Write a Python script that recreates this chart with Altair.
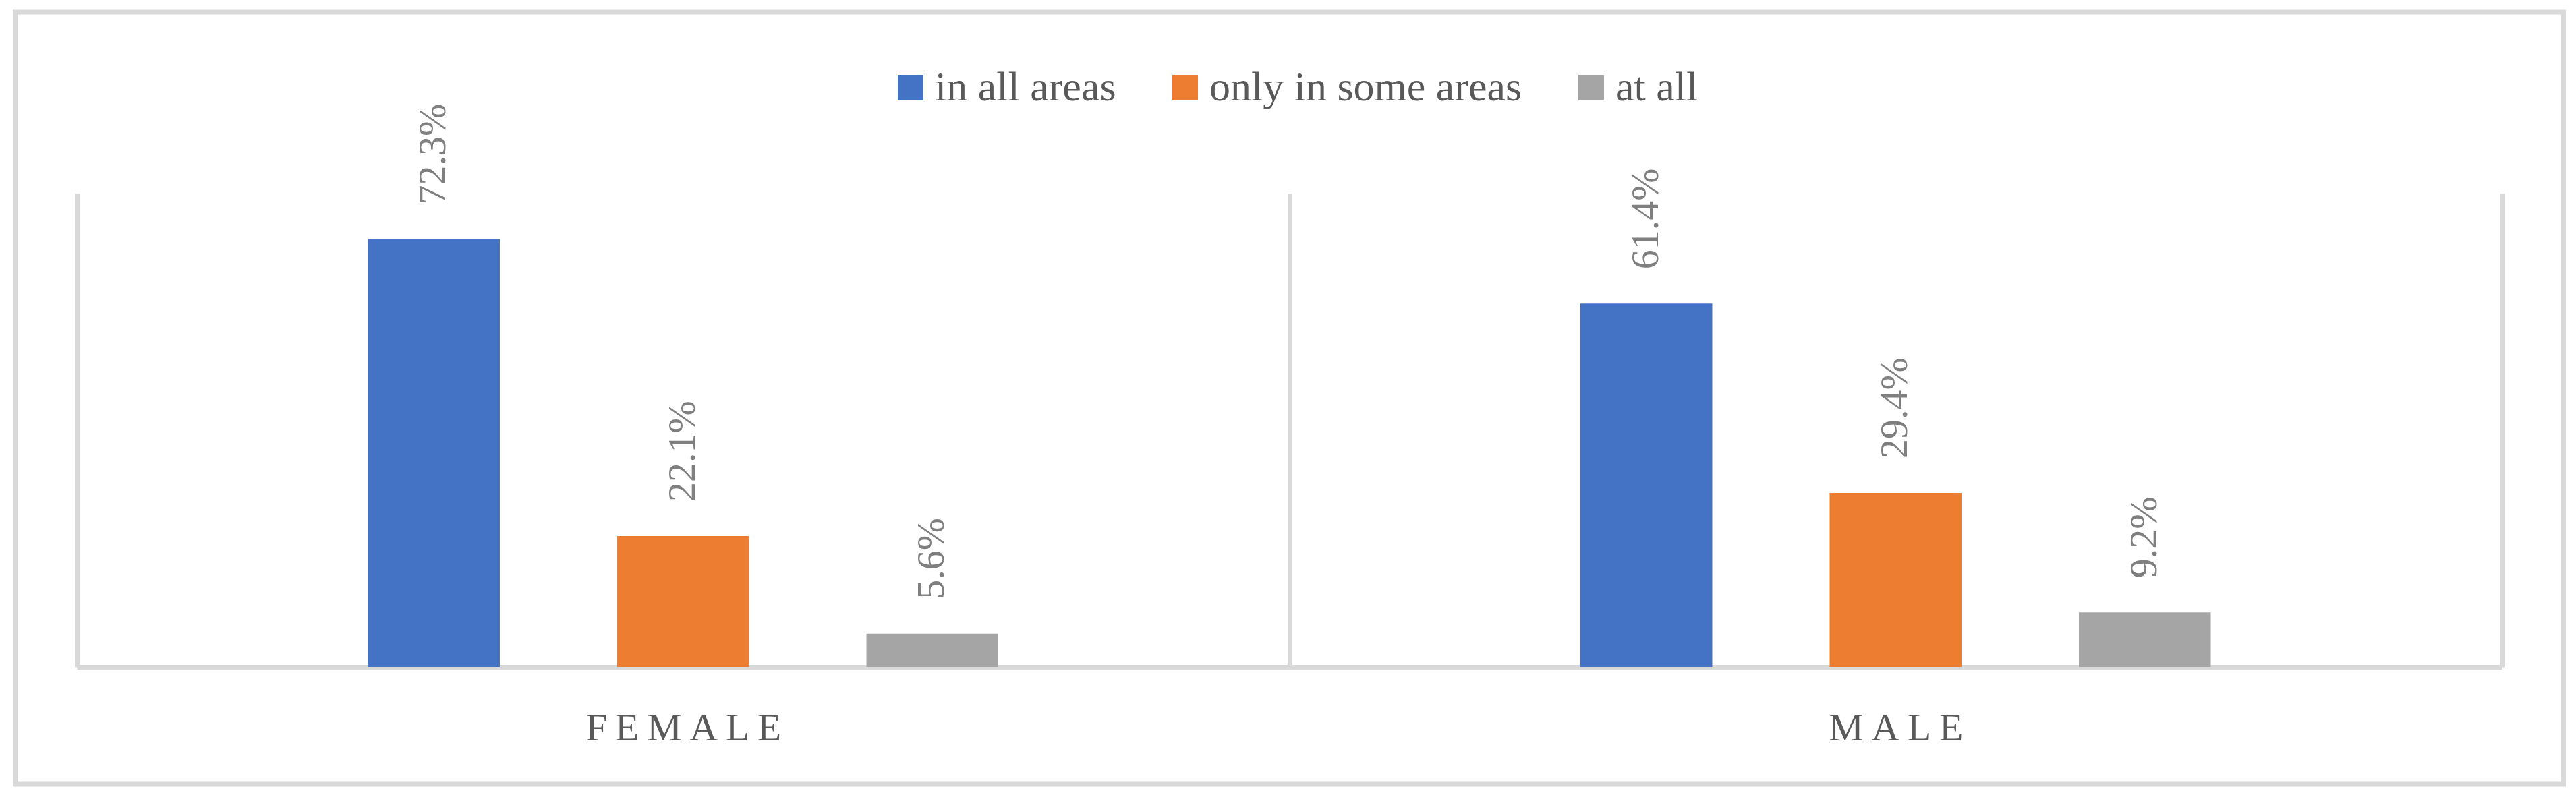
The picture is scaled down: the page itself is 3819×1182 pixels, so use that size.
import altair as alt
import pandas as pd

genders = ["FEMALE", "MALE"]
categories = ["in all areas", "only in some areas", "at all"]
female_values = [72.3, 22.1, 5.6]
male_values = [61.4, 29.4, 9.2]
colors = ["#4472C4", "#ED7D31", "#A5A5A5"]

rows = []
for g, vals in zip(genders, [female_values, male_values]):
    for c, v in zip(categories, vals):
        rows.append({"gender": g, "category": c, "value": v})
df = pd.DataFrame(rows)

FONT = "Liberation Serif"
GRID = "#D9D9D9"
W, H = 3595, 702

x_enc = alt.X(
    "gender:N",
    sort=genders,
    scale=alt.Scale(paddingInner=0, paddingOuter=0),
    axis=alt.Axis(
        title=None,
        labelAngle=0,
        labelFont=FONT,
        labelFontSize=58,
        labelColor="#595959",
        labelPadding=62,
        labelLimit=0,
        labelExpr="join(split(datum.label, ''), '\u2009')",
        ticks=False,
        tickSize=0,
        tickBand="extent",
        grid=True,
        gridColor=GRID,
        gridWidth=7,
        domain=True,
        domainColor=GRID,
        domainWidth=7,
    ),
)
xoff_enc = alt.XOffset(
    "category:N",
    sort=categories,
    scale=alt.Scale(range=[431.5, 1366], paddingInner=0.471, paddingOuter=0),
)
y_enc = alt.Y("value:Q", scale=alt.Scale(domain=[0, 80], nice=False), axis=None)

base = alt.Chart(df)

bars = base.mark_bar().encode(
    x=x_enc,
    xOffset=xoff_enc,
    y=y_enc,
    color=alt.Color(
        "category:N",
        sort=categories,
        scale=alt.Scale(domain=categories, range=colors),
        legend=alt.Legend(
            title=None,
            orient="none",
            direction="horizontal",
            legendX=1205,
            legendY=-188,
            symbolType="square",
            symbolSize=1444,
            symbolStrokeWidth=0,
            labelFont=FONT,
            labelFontSize=62,
            labelColor="#595959",
            labelOffset=5,
            columnPadding=71,
            labelLimit=0,
        ),
    ),
)

labels = base.transform_calculate(
    label="format(datum.value, '.1f') + '%'"
).mark_text(
    angle=270,
    align="left",
    baseline="middle",
    dx=51,
    font=FONT,
    fontSize=58,
    color="#7F7F7F",
).encode(
    x=x_enc,
    xOffset=xoff_enc,
    y=y_enc,
    text="label:N",
)

frame = alt.Chart(pd.DataFrame({"k": [0]})).mark_rect(
    fill="transparent", stroke=GRID, strokeWidth=7
).encode(
    x=alt.value(-91.5),
    x2=alt.value(3686.5),
    y=alt.value(-269),
    y2=alt.value(876),
)

chart = alt.layer(frame, bars, labels).properties(
    width=W,
    height=H,
    autosize=alt.AutoSizeParams(type="none"),
    padding={"left": 106, "top": 279, "right": 102, "bottom": 181},
    background="white",
).configure_view(stroke=None)

chart.save("out.html", embed_options={"renderer": "svg", "actions": False})
